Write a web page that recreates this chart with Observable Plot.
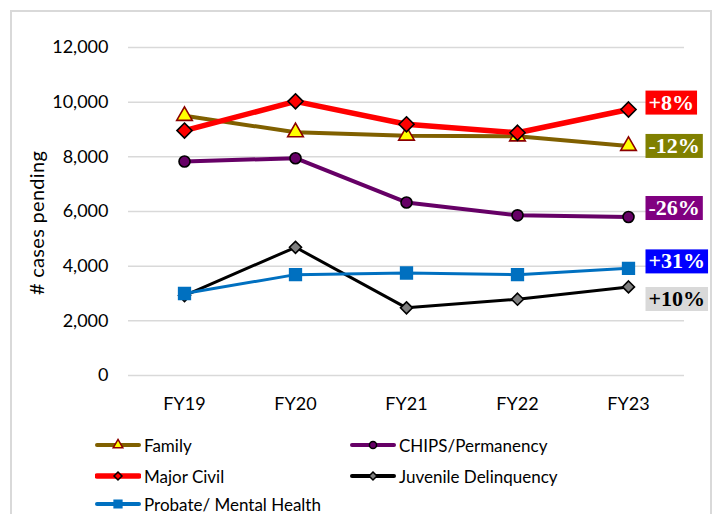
<!DOCTYPE html>
<html>
<head>
<meta charset="utf-8">
<script src="https://cdn.jsdelivr.net/npm/d3@7"></script>
<script src="https://cdn.jsdelivr.net/npm/@observablehq/plot@0.6"></script>
<style>
  html, body { margin: 0; padding: 0; background: #fff; }
  #wrap { position: relative; width: 719px; height: 514px; overflow: hidden; font-family: Lato, "Noto Sans", sans-serif; }
  #frame { position: absolute; left: 10px; top: 10px; width: 702px; height: 540px; border: 2px solid #d9d9d9; box-sizing: border-box; }
  #chart { position: absolute; left: 0; top: 0; }
  #ylab { position: absolute; left: 36px; top: 223px; transform: translate(-50%, -50%) rotate(-90deg); font-size: 20px; white-space: nowrap; color: #000; letter-spacing: 0.3px; }
  .leg { position: absolute; display: flex; align-items: center; font-size: 17px; color: #000; white-space: nowrap; }
  .leg svg { margin-right: 3px; }
</style>
</head>
<body>
<div id="wrap">
  <div id="frame"></div>
  <div id="chart"></div>
  <div id="ylab"># cases pending</div>
</div>
<script>
// ---- data ----
const years = ["FY19", "FY20", "FY21", "FY22", "FY23"];
const seriesNames = ["Family", "CHIPS/Permanency", "Major Civil", "Juvenile Delinquency", "Probate/ Mental Health"];
const family = [9500, 8900, 8775, 8750, 8400];
const chips = [7830, 7950, 6330, 5860, 5800];
const majorCivil = [8960, 10030, 9190, 8880, 9730];
const juvenile = [2925, 4690, 2475, 2790, 3240];
const probate = [3000, 3690, 3750, 3690, 3920];
const changeLabels = ["-12%", "-26%", "+8%", "+10%", "+31%"];
const yTicks = [0, 2000, 4000, 6000, 8000, 10000, 12000];

// ---- styles ----
const styles = {
  "Family": {line: "#806000", w: 4, symbol: "triangle", r: 5.8, fill: "#ffff00", mstroke: "#8b0000", bg: "#808000", fg: "#fff", dy: 0},
  "CHIPS/Permanency": {line: "#660066", w: 4, symbol: "circle", r: 5.5, fill: "#660066", mstroke: "#000", bg: "#800080", fg: "#fff", dy: -9},
  "Major Civil": {line: "#ff0000", w: 5.5, symbol: "diamond2", r: 6.8, fill: "#ff0000", mstroke: "#000", bg: "#ff0000", fg: "#fff", dy: -7},
  "Juvenile Delinquency": {line: "#000000", w: 3, symbol: "diamond2", r: 5.4, fill: "#7f7f7f", mstroke: "#000", bg: "#d9d9d9", fg: "#000", dy: 12},
  "Probate/ Mental Health": {line: "#0070c0", w: 3, symbol: "square", r: 6.6, fill: "#0070c0", mstroke: "#0070c0", bg: "#0000ff", fg: "#fff", dy: -7}
};
const valuesBy = {
  "Family": family, "CHIPS/Permanency": chips, "Major Civil": majorCivil,
  "Juvenile Delinquency": juvenile, "Probate/ Mental Health": probate
};
const drawOrder = ["Juvenile Delinquency", "Probate/ Mental Health", "CHIPS/Permanency", "Family", "Major Civil"];

const rows = name => years.map((y, i) => ({year: y, value: valuesBy[name][i], series: name}));

const marks = [
  Plot.gridY(yTicks, {stroke: "#d9d9d9", strokeOpacity: 1, strokeWidth: 1.5}),
  Plot.axisY(yTicks, {tickSize: 0, tickPadding: 20, fontSize: 18, tickFormat: d3.format(","), label: null}),
  Plot.axisX(years, {tickSize: 0, tickPadding: 22, fontSize: 18, label: null})
];
for (const name of drawOrder) {
  const s = styles[name];
  marks.push(Plot.line(rows(name), {x: "year", y: "value", stroke: s.line, strokeWidth: s.w}));
  marks.push(Plot.dot(rows(name), {x: "year", y: "value", symbol: () => s.symbol, r: s.r, fill: s.fill, stroke: s.mstroke, strokeWidth: 1.6}));
}
const last = years.length - 1;
const labelRows = seriesNames.map((name, i) => ({year: years[last], value: valuesBy[name][last], text: changeLabels[i], series: name}));
labelRows.forEach(d => {
  const s = styles[d.series];
  marks.push(Plot.text([d], {x: "year", y: "value", text: "text", dx: 20, dy: s.dy, textAnchor: "start",
    fill: s.fg, fontWeight: "bold", fontSize: 22, fontFamily: "Liberation Serif, DejaVu Serif, serif", ariaLabel: () => "change-" + s.bg}));
});

const chart = Plot.plot({
  width: 719,
  height: 420,
  marginLeft: 128,
  marginRight: 35,
  marginTop: 47,
  marginBottom: 45,
  style: {fontFamily: "Lato, 'Noto Sans', sans-serif", background: "transparent", color: "#000", overflow: "visible"},
  x: {type: "point", domain: years, padding: 0.5},
  y: {domain: [0, 12000]},
  marks
});
document.getElementById("chart").appendChild(chart);

// background boxes behind change labels
chart.querySelectorAll('text[aria-label^="change-"]').forEach(t => {
  const color = t.getAttribute("aria-label").slice(7);
  const b = t.getBBox();
  const tr = t.getAttribute("transform");
  const rect = document.createElementNS("http://www.w3.org/2000/svg", "rect");
  rect.setAttribute("x", b.x - 3);
  rect.setAttribute("y", b.y + 1);
  rect.setAttribute("width", b.width + 6);
  rect.setAttribute("height", b.height - 1);
  rect.setAttribute("fill", color);
  if (tr) rect.setAttribute("transform", tr);
  t.parentNode.insertBefore(rect, t);
});

// legend (HTML, below the chart)
const legendPos = {
  "Family": [95, 445], "CHIPS/Permanency": [350, 445],
  "Major Civil": [95, 476], "Juvenile Delinquency": [350, 476],
  "Probate/ Mental Health": [95, 504]
};
const wrap = document.getElementById("wrap");
for (const name of seriesNames) {
  const s = styles[name];
  const [lx, ly] = legendPos[name];
  const item = document.createElement("div");
  item.className = "leg";
  item.style.left = lx + "px";
  item.style.top = (ly - 12) + "px";
  item.style.height = "24px";
  const sym = d3.symbol().type({triangle: d3.symbolTriangle, circle: d3.symbolCircle, diamond2: d3.symbolDiamond2, square: d3.symbolSquare}[s.symbol]).size(s.symbol === "square" ? 60 : 40)();
  item.innerHTML = `<svg width="46" height="24"><line x1="2" x2="44" y1="12" y2="12" stroke="${s.line}" stroke-width="${Math.max(s.w, 4)}" stroke-linecap="round"/><path d="${sym}" transform="translate(23,12)" fill="${s.fill}" stroke="${s.mstroke}" stroke-width="1.5"/></svg><span>${name}</span>`;
  wrap.appendChild(item);
}
</script>
</body>
</html>
